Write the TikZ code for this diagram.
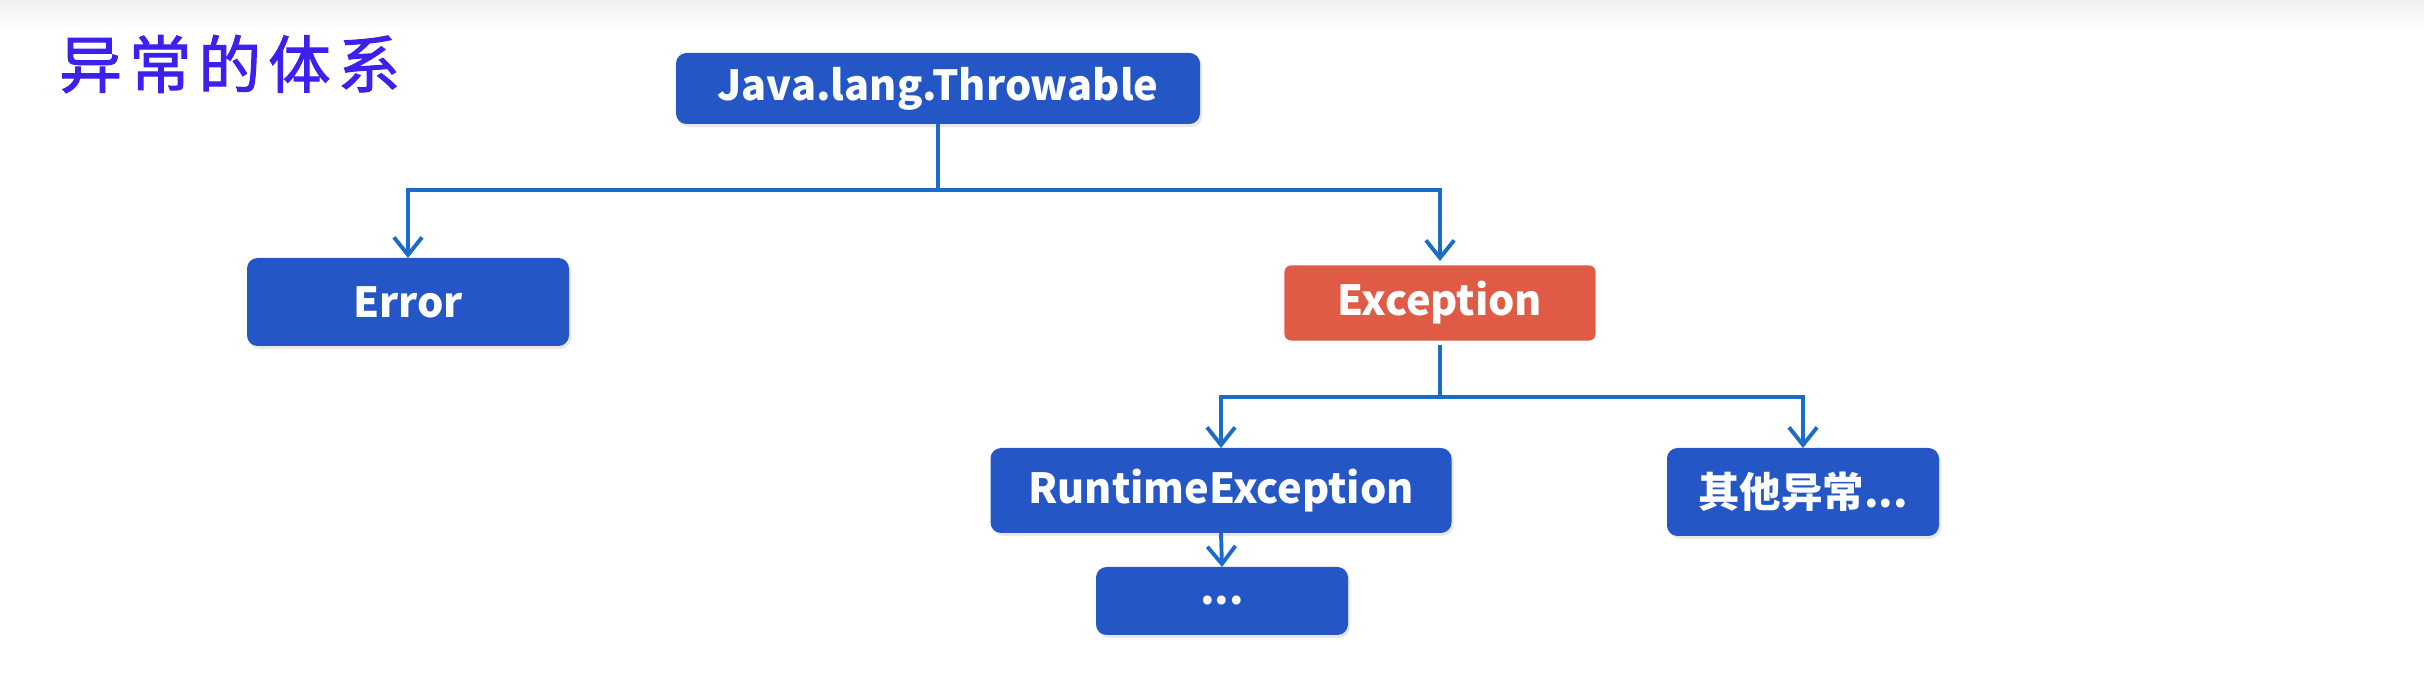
\documentclass[tikz,border=0pt]{standalone}
\usepackage{fontspec}
\newfontfamily\cjk{Noto Sans CJK SC}
\newfontfamily\titlecjk[FakeBold=1.6]{Noto Sans CJK SC}
\usepackage{tikz}
\usetikzlibrary{arrows.meta,shadows}
\definecolor{nodeblue}{RGB}{36,87,197}
\definecolor{excred}{RGB}{224,91,70}
\definecolor{linkblue}{RGB}{26,108,200}
\definecolor{titleviolet}{RGB}{60,32,238}

\begin{document}
\begin{tikzpicture}[
    box/.style={rectangle,rounded corners=3pt,fill=nodeblue,text=white,
      font=\cjk\bfseries\fontsize{11.8}{14}\selectfont,inner sep=0pt,outer sep=0pt,
      drop shadow={opacity=0.18,shadow xshift=0.6pt,shadow yshift=-0.8pt}},
    link/.style={linkblue,line width=1.1pt,-{Straight Barb[length=5pt,width=8pt]}}
  ]
  \useasboundingbox (0,0) rectangle (24.24,-6.88);
  \shade[top color=black!6,bottom color=white] (0,0) rectangle (24.24,-0.32);
  \node[titleviolet,font=\titlecjk\fontsize{17.8}{20}\selectfont,anchor=west] (title)
    at (0.47,-0.64) {异\hspace{2pt}常\hspace{2pt}的\hspace{2pt}体\hspace{2pt}系};

  % nodes
  \node[box,minimum width=5.24cm,minimum height=0.71cm] (thr) at (9.38,-0.885) {Java.lang.Throwable};
  \node[box,minimum width=3.22cm,minimum height=0.88cm] (err) at (4.08,-3.02) {Error};
  \node[box,fill=excred,draw=white,line width=2.5pt,minimum width=3.2cm,minimum height=0.84cm] (exc) at (14.40,-3.03) {Exception};
  \node[box,minimum width=4.61cm,minimum height=0.85cm] (rte) at (12.21,-4.905) {RuntimeException};
  \node[box,minimum width=2.52cm,minimum height=0.68cm] (dots) at (12.22,-6.01) {...};
  \node[box,minimum width=2.72cm,minimum height=0.88cm] (other) at (18.03,-4.92) {其他异常...};

  % connectors
  \coordinate (s1) at (9.38,-1.90);
  \coordinate (s2) at (14.40,-3.97);
  \draw[linkblue,line width=1.1pt] (thr.south) -- (s1);
  \draw[link] (s1) -| (err.north);
  \draw[link] (s1) -| (exc.north);
  \draw[linkblue,line width=1.1pt] (exc.south) -- (s2);
  \draw[link] (s2) -| (rte.north);
  \draw[link] (s2) -| (other.north);
  \draw[link] (rte.south) -- (dots.north);
\end{tikzpicture}
\end{document}
